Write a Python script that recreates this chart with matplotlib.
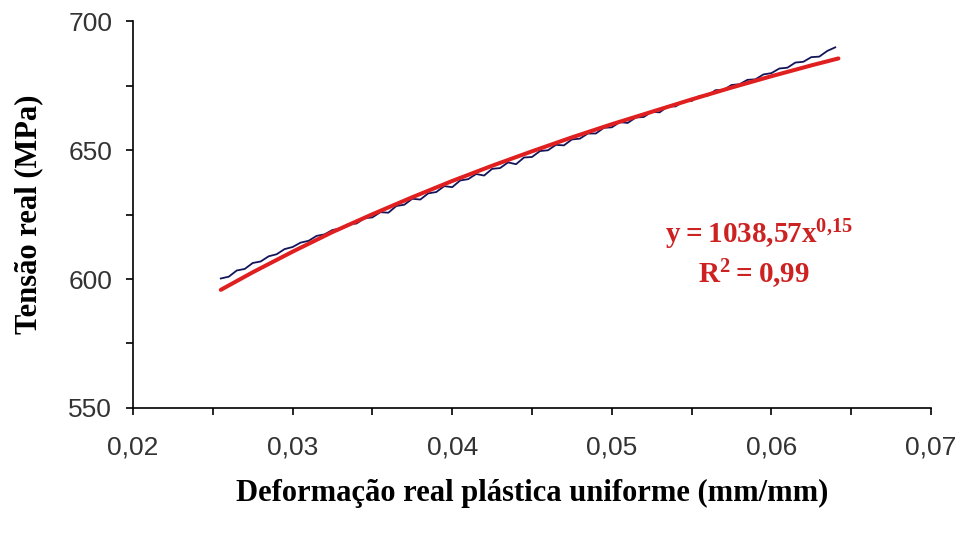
import numpy as np
import matplotlib.pyplot as plt
from matplotlib.ticker import MultipleLocator, FuncFormatter

deform = [0.0255, 0.0260, 0.0265, 0.0270, 0.0275, 0.0280, 0.0285, 0.0290, 0.0295, 0.0300,
          0.0305, 0.0310, 0.0315, 0.0320, 0.0325, 0.0330, 0.0335, 0.0340, 0.0345, 0.0350,
          0.0355, 0.0360, 0.0365, 0.0370, 0.0375, 0.0380, 0.0385, 0.0390, 0.0395, 0.0400,
          0.0405, 0.0410, 0.0415, 0.0420, 0.0425, 0.0430, 0.0435, 0.0440, 0.0445, 0.0450,
          0.0455, 0.0460, 0.0465, 0.0470, 0.0475, 0.0480, 0.0485, 0.0490, 0.0495, 0.0500,
          0.0505, 0.0510, 0.0515, 0.0520, 0.0525, 0.0530, 0.0535, 0.0540, 0.0545, 0.0550,
          0.0555, 0.0560, 0.0565, 0.0570, 0.0575, 0.0580, 0.0585, 0.0590, 0.0595, 0.0600,
          0.0605, 0.0610, 0.0615, 0.0620, 0.0625, 0.0630, 0.0635, 0.0640]
tensao = [600.2, 600.9, 603.3, 603.9, 606.2, 606.8, 608.8, 609.6, 611.6, 612.4,
          614.1, 614.8, 616.7, 617.3, 619.0, 619.6, 621.3, 621.5, 623.5, 623.9,
          625.9, 625.7, 628.3, 628.8, 631.1, 630.8, 633.2, 633.7, 636.0, 635.6,
          638.2, 638.7, 640.7, 640.1, 642.7, 643.0, 645.2, 644.5, 647.1, 647.3,
          649.6, 649.9, 652.0, 651.8, 654.1, 654.4, 656.4, 656.4, 658.6, 658.8,
          660.8, 660.5, 662.6, 662.8, 664.8, 664.6, 666.9, 666.9, 668.9, 669.0,
          671.0, 671.1, 673.2, 673.3, 675.2, 675.5, 677.2, 677.4, 679.3, 679.8,
          681.6, 681.9, 683.9, 684.2, 686.0, 686.2, 688.4, 689.8]

# ajuste (vermelho)
deform_fit = [0.0255, 0.0275, 0.0300, 0.0325, 0.0350, 0.0375, 0.0400, 0.0425, 0.0450,
              0.0475, 0.0500, 0.0525, 0.0550, 0.0575, 0.0600, 0.0625, 0.0642]
tensao_fit = [595.8, 602.6, 610.6, 618.2, 625.1, 631.7, 638.0, 643.9, 649.5,
              654.9, 660.0, 664.8, 669.6, 674.2, 678.6, 682.8, 685.5]

plt.rcParams['mathtext.fontset'] = 'custom'
plt.rcParams['mathtext.rm'] = 'Liberation Serif:bold'
plt.rcParams['mathtext.bf'] = 'Liberation Serif:bold'

fig = plt.figure(figsize=(9.59, 5.35), dpi=100)
ax = fig.add_axes([0.1387, 0.2374, 0.8321, 0.7233])

ax.plot(deform, tensao, color='#14145a', lw=1.3)
ax.plot(deform_fit, tensao_fit, color='#e02020', lw=2.9, solid_capstyle='round')

ax.set_xlim(0.02, 0.07)
ax.set_ylim(550, 700)
ax.xaxis.set_major_locator(MultipleLocator(0.01))
ax.xaxis.set_minor_locator(MultipleLocator(0.005))
ax.yaxis.set_major_locator(MultipleLocator(50))
ax.yaxis.set_minor_locator(MultipleLocator(25))
ax.xaxis.set_major_formatter(FuncFormatter(lambda v, p: ('%.2f' % v).replace('.', ',')))

for s in ['top', 'right']:
    ax.spines[s].set_visible(False)
for s in ['left', 'bottom']:
    ax.spines[s].set_linewidth(1.2)

ax.tick_params(which='both', direction='out', length=5, width=1.2, color='black')
ax.tick_params(axis='x', which='major', labelsize=19, pad=15)
ax.tick_params(axis='y', which='major', labelsize=19, pad=10)
for lab in ax.get_xticklabels() + ax.get_yticklabels():
    lab.set_fontfamily('Liberation Sans')
    lab.set_color('#333333')

ax.set_xlabel('Deformação real plástica uniforme (mm/mm)', fontsize=22,
              fontweight='bold', family='Liberation Serif', labelpad=14)
ax.set_ylabel('Tensão real (MPa)', fontsize=22, fontweight='bold',
              family='Liberation Serif', labelpad=18)

ax.text(0.0592, 617, r'$\mathbf{y = 1038{,}57x^{0{,}15}}$', color='#cc2222',
        fontsize=21, ha='center', va='center')
ax.text(0.0589, 602, r'$\mathbf{R^{2} = 0{,}99}$', color='#cc2222',
        fontsize=21, ha='center', va='center')

fig.savefig('out.png', dpi=100)
